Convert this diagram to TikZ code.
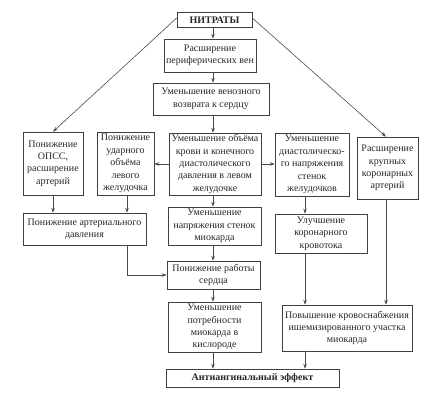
\documentclass[tikz,border=0pt]{standalone}
\usepackage{fontspec}
\setmainfont{Liberation Serif}
\usetikzlibrary{arrows.meta}
\begin{document}
\begin{tikzpicture}[x=1pt,y=-1pt,
  box/.style={draw=black!75, line width=0.6pt, inner sep=0pt, align=center,
    text=black!85, font=\fontsize{10}{12.4}\selectfont},
  arr/.style={draw=black!70, line width=0.6pt, -{Stealth[length=5pt,width=3.5pt]}},
  ln/.style={draw=black!70, line width=0.6pt}]
\useasboundingbox (0,0) rectangle (445,401);
\node[box, minimum width=75, minimum height=15, font=\fontsize{10}{12}\selectfont\bfseries] (nit) at (214.5,20) {НИТРАТЫ};
\node[box, minimum width=92, minimum height=33] (ras) at (210,55.5) {Расширение\\периферических вен};
\node[box, minimum width=116, minimum height=32] (ven) at (211,99) {Уменьшение венозного\\возврата к сердцу};
\node[box, minimum width=60, minimum height=63] (opss) at (53,163.5) {Понижение\\ОПСС,\\расширение\\артерий};
\node[box, minimum width=57, minimum height=63] (udar) at (125.5,163.5) {Понижение\\ударного\\объёма\\левого\\желудочка};
\node[box, minimum width=92, minimum height=62] (cen) at (215,164) {Уменьшение объёма\\крови и конечного\\диастолического\\давления в левом\\желудочке};
\node[box, minimum width=74, minimum height=63] (dia) at (312,164.5) {Уменьшение\\диастолическо-\\го напряжения\\стенок\\желудочков};
\node[box, minimum width=61, minimum height=62] (krup) at (387.5,168) {Расширение\\крупных\\коронарных\\артерий};
\node[box, minimum width=123, minimum height=32] (art) at (84.5,229) {Понижение артериального\\давления};
\node[box, minimum width=93, minimum height=38] (napr) at (214.5,226) {Уменьшение\\напряжения стенок\\миокарда};
\node[box, minimum width=92, minimum height=39] (uluch) at (321,233.5) {Улучшение\\коронарного\\кровотока};
\node[box, minimum width=93, minimum height=28] (rab) at (213.5,275) {Понижение работы\\сердца};
\node[box, minimum width=93, minimum height=50] (potr) at (214.5,327) {Уменьшение\\потребности\\миокарда в\\кислороде};
\node[box, minimum width=130, minimum height=46] (pov) at (347,328) {Повышение кровоснабжения\\ишемизированного участка\\миокарда};
\node[box, minimum width=173, minimum height=18, font=\fontsize{10}{12}\selectfont\bfseries] (anti) at (252.5,378) {Антиангинальный эффект};
\coordinate (xa) at (53,0);
\coordinate (xb) at (127,0);
\coordinate (xc) at (213,0);
\coordinate (xd) at (305,0);
\coordinate (xe) at (386,0);
\coordinate (ya) at (0,164);
\coordinate (yb) at (0,275);
\coordinate (bend) at (127,275);
% main column
\draw[arr] (nit.south -| xc) -- (ras.north -| xc);
\draw[arr] (ras.south -| xc) -- (ven.north -| xc);
\draw[arr] (ven.south -| xc) -- (cen.north -| xc);
\draw[arr] (cen.south -| xc) -- (napr.north -| xc);
\draw[arr] (napr.south -| xc) -- (rab.north -| xc);
\draw[arr] (rab.south -| xc) -- (potr.north -| xc);
\draw[arr] (potr.south -| xc) -- (anti.north -| xc);
% sideways
\draw[arr] (cen.west |- ya) -- (udar.east |- ya);
\draw[arr] (cen.east |- ya) -- (dia.west |- ya);
% diagonals
\draw[arr] (nit.west) ++(0,-2) -- (opss.north);
\draw[arr] (nit.east) ++(0,-2) -- (krup.north -| xe);
% left
\draw[arr] (opss.south -| xa) -- (art.north -| xa);
\draw[arr] (udar.south -| xb) -- (art.north -| xb);
\draw[ln] (art.south -| xb) -- (bend);
\draw[arr] (bend) -- (rab.west |- yb);
% right
\draw[arr] (dia.south -| xd) -- (uluch.north -| xd);
\draw[arr] (uluch.south -| xd) -- (pov.north -| xd);
\draw[arr] (krup.south -| xe) -- (pov.north -| xe);
\draw[arr] (pov.south -| xd) -- (anti.north -| xd);
\end{tikzpicture}
\end{document}
